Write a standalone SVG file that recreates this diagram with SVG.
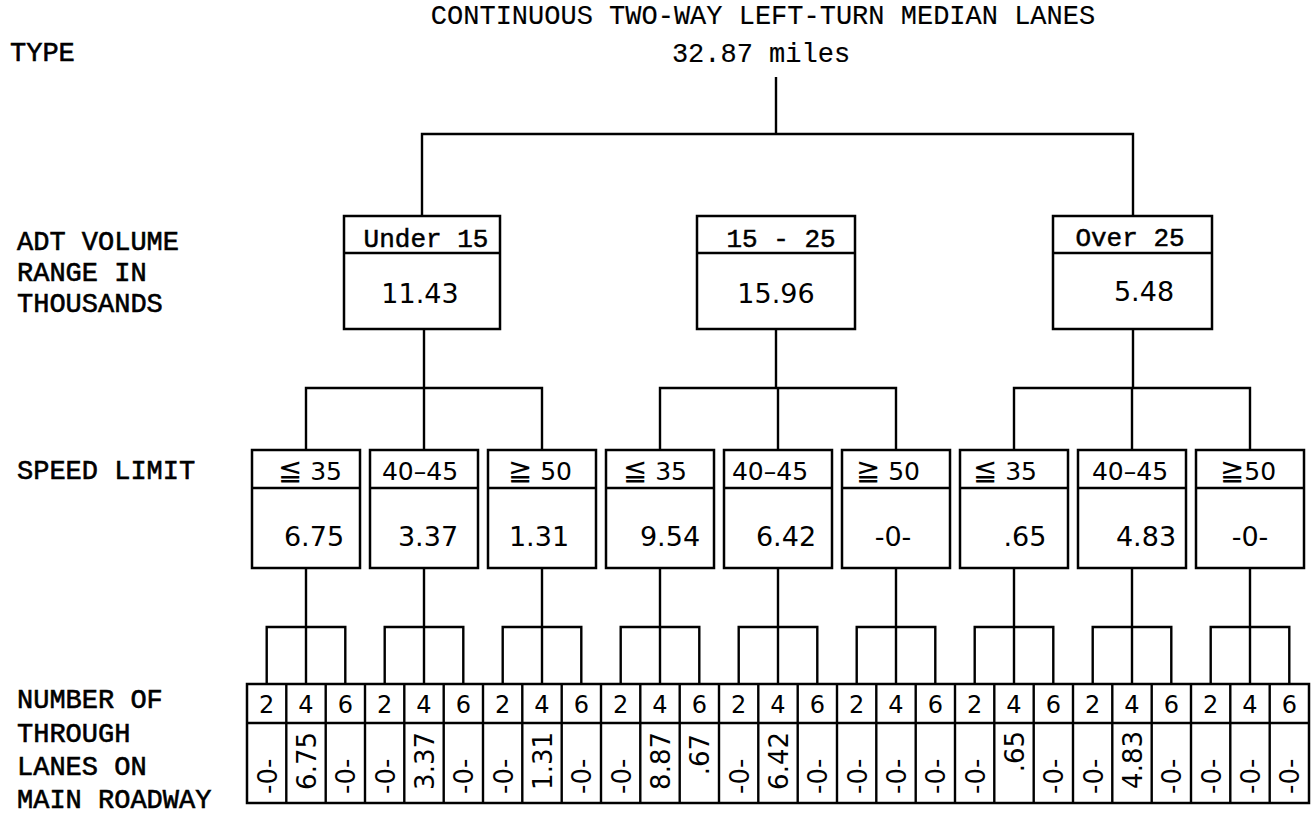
<svg xmlns="http://www.w3.org/2000/svg" width="1315" height="820" viewBox="0 0 1315 820">
  <style>
    .mono { font-family: "Liberation Mono", "Courier New", monospace; font-size: 27px; fill: #000; stroke: #000; stroke-width: 0.15; }
    .lbl { font-family: "Liberation Mono", "Courier New", monospace; font-size: 27px; fill: #000; stroke: #000; stroke-width: 0.6; }
    .hdr { font-family: "Liberation Mono", "Courier New", monospace; font-size: 26px; fill: #000; stroke: #000; stroke-width: 0.5; text-anchor: middle; }
    .sans { font-family: "DejaVu Sans", "Liberation Sans", sans-serif; font-size: 25px; fill: #000; text-anchor: middle; }
    .sym { font-size: 29px; }
    .val { font-family: "DejaVu Sans", "Liberation Sans", sans-serif; font-size: 27px; fill: #000; text-anchor: middle; }
    .cell { font-family: "DejaVu Sans", "Liberation Sans", sans-serif; font-size: 24px; fill: #000; text-anchor: middle; }
    .rot { font-family: "DejaVu Sans", "Liberation Sans", sans-serif; font-size: 26px; fill: #000; }
    .box { fill: #fff; stroke: #000; stroke-width: 2.5; }
    .ln { fill: none; stroke: #000; stroke-width: 2.4; }
  </style>

  <rect width="1315" height="820" fill="#fff"/>

  <!-- row labels -->
  <g id="row-labels">
    <text class="lbl" x="10" y="61">TYPE</text>
    <text class="lbl" x="17" y="250">ADT VOLUME</text>
    <text class="lbl" x="17" y="281">RANGE IN</text>
    <text class="lbl" x="17" y="312">THOUSANDS</text>
    <text class="lbl" x="17" y="479">SPEED LIMIT</text>
    <text class="lbl" x="17" y="708">NUMBER OF</text>
    <text class="lbl" x="17" y="742">THROUGH</text>
    <text class="lbl" x="17" y="775">LANES ON</text>
    <text class="lbl" x="17" y="808">MAIN ROADWAY</text>
  </g>

  <!-- root -->
  <g id="root">
    <text class="mono" x="763" y="24" text-anchor="middle">CONTINUOUS TWO-WAY LEFT-TURN MEDIAN LANES</text>
    <text class="mono" x="761" y="62" text-anchor="middle">32.87 miles</text>
  </g>

  <!-- connectors -->
  <g id="connectors" class="ln">
    <!-- root to ADT ranges -->
    <path d="M776 77 V134 M422 216 V134 H1133 V216"/>
    <!-- ADT ranges to speed limits -->
    <path d="M424 329 V388 M306 450 V388 H542 V450 M424 388 V450"/>
    <path d="M776 329 V388 M660 450 V388 H896 V450 M778 388 V450"/>
    <path d="M1133 329 V388 M1014 450 V388 H1250 V450 M1132 388 V450"/>
    <!-- speed limits to lane counts -->
    <path d="M306 568 V627 M266.7 684 V627 H345.3 V684 M306 627 V684"/>
    <path d="M424 568 V627 M384.7 684 V627 H463.3 V684 M424 627 V684"/>
    <path d="M542 568 V627 M502.7 684 V627 H581.3 V684 M542 627 V684"/>
    <path d="M660 568 V627 M620.7 684 V627 H699.3 V684 M660 627 V684"/>
    <path d="M778 568 V627 M738.7 684 V627 H817.3 V684 M778 627 V684"/>
    <path d="M896 568 V627 M856.7 684 V627 H935.3 V684 M896 627 V684"/>
    <path d="M1014 568 V627 M974.7 684 V627 H1053.3 V684 M1014 627 V684"/>
    <path d="M1132 568 V627 M1092.7 684 V627 H1171.3 V684 M1132 627 V684"/>
    <path d="M1250 568 V627 M1210.7 684 V627 H1289.3 V684 M1250 627 V684"/>
  </g>

  <!-- ADT volume ranges -->
  <g id="adt-under-15">
    <rect class="box" x="344" y="216" width="156" height="113"/>
    <line class="ln" x1="344" y1="253" x2="500" y2="253"/>
    <text class="hdr" x="426" y="247">Under 15</text>
    <text class="val" x="420" y="303">11.43</text>
  </g>
  <g id="adt-15-25">
    <rect class="box" x="697" y="216" width="158" height="113"/>
    <line class="ln" x1="697" y1="253" x2="855" y2="253"/>
    <text class="hdr" x="781" y="247">15 - 25</text>
    <text class="val" x="776" y="303">15.96</text>
  </g>
  <g id="adt-over-25">
    <rect class="box" x="1053" y="216" width="159" height="113"/>
    <line class="ln" x1="1053" y1="253" x2="1212" y2="253"/>
    <text class="hdr" x="1130" y="246">Over 25</text>
    <text class="val" x="1144" y="301">5.48</text>
  </g>

  <!-- speed limits -->
  <g id="speed-1">
    <rect class="box" x="252" y="450" width="108" height="118"/>
    <line class="ln" x1="252" y1="488" x2="360" y2="488"/>
    <text class="sans" x="310" y="480"><tspan class="sym">≦</tspan> 35</text>
    <text class="val" x="314" y="546">6.75</text>
  </g>
  <g id="speed-2">
    <rect class="box" x="370" y="450" width="108" height="118"/>
    <line class="ln" x1="370" y1="488" x2="478" y2="488"/>
    <text class="sans" x="420" y="480">40–45</text>
    <text class="val" x="428" y="546">3.37</text>
  </g>
  <g id="speed-3">
    <rect class="box" x="488" y="450" width="108" height="118"/>
    <line class="ln" x1="488" y1="488" x2="596" y2="488"/>
    <text class="sans" x="540" y="480"><tspan class="sym">≧</tspan> 50</text>
    <text class="val" x="539" y="546">1.31</text>
  </g>
  <g id="speed-4">
    <rect class="box" x="606" y="450" width="108" height="118"/>
    <line class="ln" x1="606" y1="488" x2="714" y2="488"/>
    <text class="sans" x="655" y="480"><tspan class="sym">≦</tspan> 35</text>
    <text class="val" x="670" y="546">9.54</text>
  </g>
  <g id="speed-5">
    <rect class="box" x="724" y="450" width="108" height="118"/>
    <line class="ln" x1="724" y1="488" x2="832" y2="488"/>
    <text class="sans" x="770" y="480">40–45</text>
    <text class="val" x="786" y="546">6.42</text>
  </g>
  <g id="speed-6">
    <rect class="box" x="842" y="450" width="108" height="118"/>
    <line class="ln" x1="842" y1="488" x2="950" y2="488"/>
    <text class="sans" x="888" y="480"><tspan class="sym">≧</tspan> 50</text>
    <text class="val" x="893" y="546">-0-</text>
  </g>
  <g id="speed-7">
    <rect class="box" x="960" y="450" width="108" height="118"/>
    <line class="ln" x1="960" y1="488" x2="1068" y2="488"/>
    <text class="sans" x="1005" y="480"><tspan class="sym">≦</tspan> 35</text>
    <text class="val" x="1025" y="546">.65</text>
  </g>
  <g id="speed-8">
    <rect class="box" x="1078" y="450" width="108" height="118"/>
    <line class="ln" x1="1078" y1="488" x2="1186" y2="488"/>
    <text class="sans" x="1130" y="480">40–45</text>
    <text class="val" x="1146" y="546">4.83</text>
  </g>
  <g id="speed-9">
    <rect class="box" x="1196" y="450" width="108" height="118"/>
    <line class="ln" x1="1196" y1="488" x2="1304" y2="488"/>
    <text class="sans" x="1248" y="480"><tspan class="sym">≧</tspan>50</text>
    <text class="val" x="1250" y="546">-0-</text>
  </g>

  <!-- through lanes on main roadway -->
  <g id="lanes">
    <rect class="box" x="247" y="684" width="1062" height="119"/>
    <path class="ln" d="M247 723 H1309
      M286.3 684 V803 M325.7 684 V803 M365 684 V803 M404.3 684 V803 M443.7 684 V803
      M483 684 V803 M522.3 684 V803 M561.7 684 V803 M601 684 V803 M640.3 684 V803
      M679.7 684 V803 M719 684 V803 M758.3 684 V803 M797.7 684 V803 M837 684 V803
      M876.3 684 V803 M915.7 684 V803 M955 684 V803 M994.3 684 V803 M1033.7 684 V803
      M1073 684 V803 M1112.3 684 V803 M1151.7 684 V803 M1191 684 V803 M1230.3 684 V803
      M1269.7 684 V803"/>
    <g class="cell">
      <text x="266.7" y="713">2</text><text x="306" y="713">4</text><text x="345.3" y="713">6</text>
      <text x="384.7" y="713">2</text><text x="424" y="713">4</text><text x="463.3" y="713">6</text>
      <text x="502.7" y="713">2</text><text x="542" y="713">4</text><text x="581.3" y="713">6</text>
      <text x="620.7" y="713">2</text><text x="660" y="713">4</text><text x="699.3" y="713">6</text>
      <text x="738.7" y="713">2</text><text x="778" y="713">4</text><text x="817.3" y="713">6</text>
      <text x="856.7" y="713">2</text><text x="896" y="713">4</text><text x="935.3" y="713">6</text>
      <text x="974.7" y="713">2</text><text x="1014" y="713">4</text><text x="1053.3" y="713">6</text>
      <text x="1092.7" y="713">2</text><text x="1132" y="713">4</text><text x="1171.3" y="713">6</text>
      <text x="1210.7" y="713">2</text><text x="1250" y="713">4</text><text x="1289.3" y="713">6</text>
    </g>
    <g class="rot">
      <text transform="translate(276.7 794) rotate(-90)">-0-</text>
      <text transform="translate(316 732) rotate(-90)" text-anchor="end">6.75</text>
      <text transform="translate(355.3 794) rotate(-90)">-0-</text>
      <text transform="translate(394.7 794) rotate(-90)">-0-</text>
      <text transform="translate(434 732) rotate(-90)" text-anchor="end">3.37</text>
      <text transform="translate(473.3 794) rotate(-90)">-0-</text>
      <text transform="translate(512.7 794) rotate(-90)">-0-</text>
      <text transform="translate(552 732) rotate(-90)" text-anchor="end">1.31</text>
      <text transform="translate(591.3 794) rotate(-90)">-0-</text>
      <text transform="translate(630.7 794) rotate(-90)">-0-</text>
      <text transform="translate(670 732) rotate(-90)" text-anchor="end">8.87</text>
      <text transform="translate(709.3 734) rotate(-90)" text-anchor="end">.67</text>
      <text transform="translate(748.7 794) rotate(-90)">-0-</text>
      <text transform="translate(788 732) rotate(-90)" text-anchor="end">6.42</text>
      <text transform="translate(827.3 794) rotate(-90)">-0-</text>
      <text transform="translate(866.7 794) rotate(-90)">-0-</text>
      <text transform="translate(906 794) rotate(-90)">-0-</text>
      <text transform="translate(945.3 794) rotate(-90)">-0-</text>
      <text transform="translate(984.7 794) rotate(-90)">-0-</text>
      <text transform="translate(1024 731) rotate(-90)" text-anchor="end">.65</text>
      <text transform="translate(1063.3 794) rotate(-90)">-0-</text>
      <text transform="translate(1102.7 794) rotate(-90)">-0-</text>
      <text transform="translate(1142 731) rotate(-90)" text-anchor="end">4.83</text>
      <text transform="translate(1181.3 794) rotate(-90)">-0-</text>
      <text transform="translate(1220.7 794) rotate(-90)">-0-</text>
      <text transform="translate(1260 794) rotate(-90)">-0-</text>
      <text transform="translate(1299.3 794) rotate(-90)">-0-</text>
    </g>
  </g>
</svg>
